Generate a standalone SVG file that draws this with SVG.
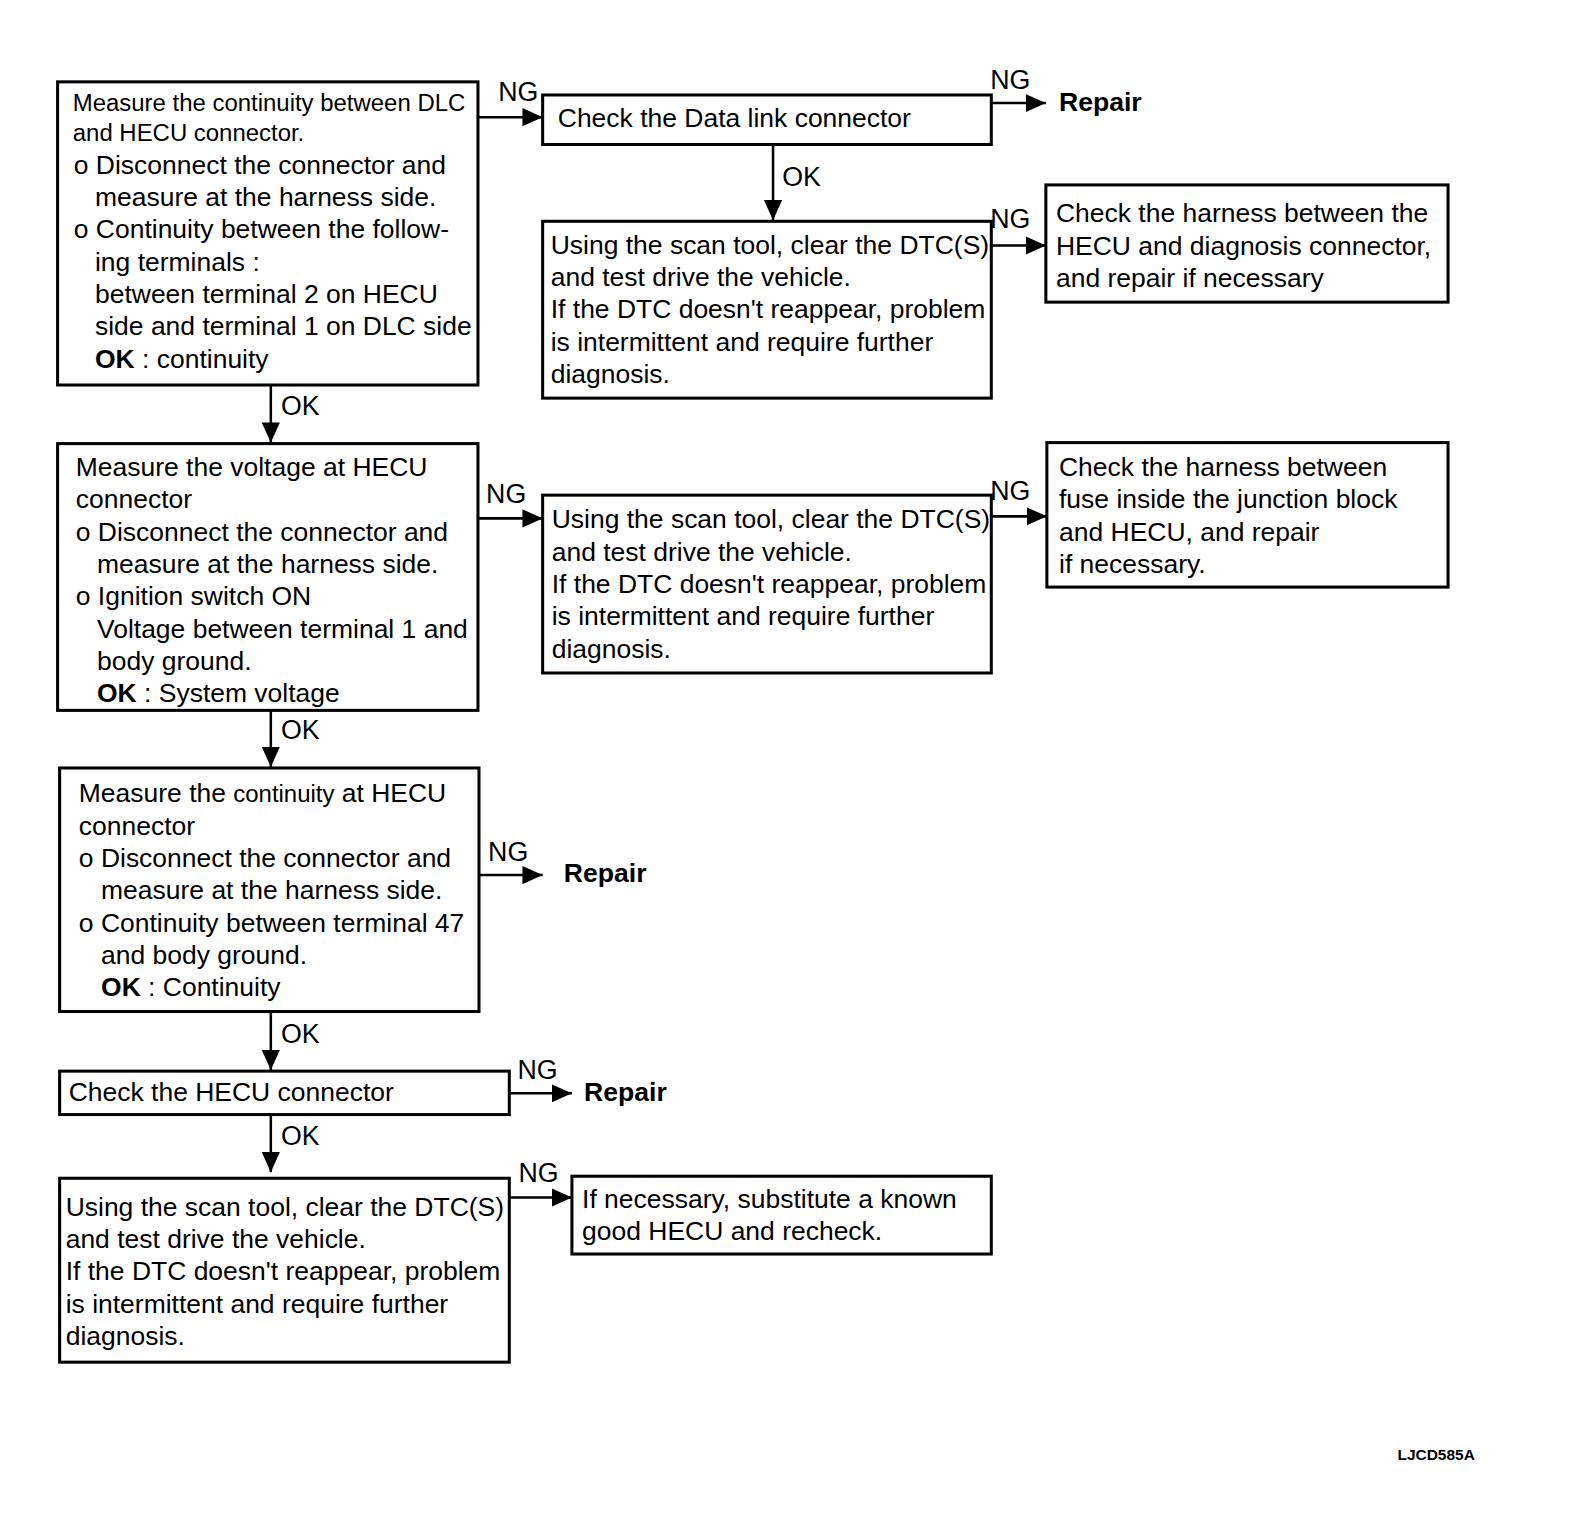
<svg xmlns="http://www.w3.org/2000/svg" width="1584" height="1532" viewBox="0 0 1584 1532">
<style>
.box{fill:#fff;stroke:#000;stroke-width:3}
.t{font-family:"Liberation Sans",Arial,sans-serif;font-size:26.2px;fill:#000}
.s{font-size:23.7px}
.b{font-weight:bold}
.lbl{font-family:"Liberation Sans",Arial,sans-serif;font-size:26.5px;fill:#000}
.rep{font-family:"Liberation Sans",Arial,sans-serif;font-size:26.3px;font-weight:bold;fill:#000}
.c{stroke:#000;stroke-width:2.5;fill:none}
</style>
<defs>
<marker id="ah" markerUnits="userSpaceOnUse" markerWidth="22" markerHeight="20" refX="20" refY="9" orient="auto">
<path d="M0,0 L20,9 L0,18 z" fill="#000"/>
</marker>
</defs>
<rect width="1584" height="1532" fill="#fff"/>
<g transform="scale(1.0105)">

<g id="n1">
<rect class="box" x="57" y="81" width="416" height="300"/>
<text class="t"><tspan class="s" x="72" y="110">Measure the continuity between DLC</tspan><tspan class="s" x="72" y="140">and HECU connector.</tspan><tspan x="73" y="172">o Disconnect the connector and</tspan><tspan x="94" y="204">measure at the harness side.</tspan><tspan x="73" y="236">o Continuity between the follow-</tspan><tspan x="94" y="268">ing terminals :</tspan><tspan x="94" y="300">between terminal 2 on HECU</tspan><tspan x="94" y="332">side and terminal 1 on DLC side</tspan><tspan x="94" y="364" class="b">OK</tspan><tspan> : continuity</tspan></text>
</g>

<g id="n2">
<rect class="box" x="537" y="94" width="444" height="49"/>
<text class="t" x="552" y="126">Check the Data link connector</text>
</g>
<text class="rep" x="1048" y="110">Repair</text>

<g id="n3">
<rect class="box" x="537" y="219" width="444" height="175"/>
<text class="t"><tspan x="545" y="251">Using the scan tool, clear the DTC(S)</tspan><tspan x="545" y="283">and test drive the vehicle.</tspan><tspan x="545" y="315">If the DTC doesn't reappear, problem</tspan><tspan x="545" y="347">is intermittent and require further</tspan><tspan x="545" y="379">diagnosis.</tspan></text>
</g>

<g id="n4">
<rect class="box" x="1035" y="183" width="398" height="116"/>
<text class="t"><tspan x="1045" y="220">Check the harness between the</tspan><tspan x="1045" y="252">HECU and diagnosis connector,</tspan><tspan x="1045" y="284">and repair if necessary</tspan></text>
</g>

<g id="n5">
<rect class="box" x="57" y="439" width="416" height="264"/>
<text class="t"><tspan x="75" y="471">Measure the voltage at HECU</tspan><tspan x="75" y="503">connector</tspan><tspan x="75" y="535">o Disconnect the connector and</tspan><tspan x="96" y="567">measure at the harness side.</tspan><tspan x="75" y="599">o Ignition switch ON</tspan><tspan x="96" y="631">Voltage between terminal 1 and</tspan><tspan x="96" y="663">body ground.</tspan><tspan x="96" y="695" class="b">OK</tspan><tspan> : System voltage</tspan></text>
</g>

<g id="n6">
<rect class="box" x="537" y="490" width="444" height="176"/>
<text class="t"><tspan x="546" y="523">Using the scan tool, clear the DTC(S)</tspan><tspan x="546" y="555">and test drive the vehicle.</tspan><tspan x="546" y="587">If the DTC doesn't reappear, problem</tspan><tspan x="546" y="619">is intermittent and require further</tspan><tspan x="546" y="651">diagnosis.</tspan></text>
</g>

<g id="n7">
<rect class="box" x="1036" y="438" width="397" height="143"/>
<text class="t"><tspan x="1048" y="471">Check the harness between</tspan><tspan x="1048" y="503">fuse inside the junction block</tspan><tspan x="1048" y="535">and HECU, and repair</tspan><tspan x="1048" y="567">if necessary.</tspan></text>
</g>

<g id="n8">
<rect class="box" x="59" y="760" width="415" height="241"/>
<text class="t"><tspan x="78" y="794">Measure the </tspan><tspan class="s">continuity</tspan><tspan> at HECU</tspan><tspan x="78" y="826">connector</tspan><tspan x="78" y="858">o Disconnect the connector and</tspan><tspan x="100" y="890">measure at the harness side.</tspan><tspan x="78" y="922">o Continuity between terminal 47</tspan><tspan x="100" y="954">and body ground.</tspan><tspan x="100" y="986" class="b">OK</tspan><tspan> : Continuity</tspan></text>
</g>
<text class="rep" x="558" y="873">Repair</text>

<g id="n9">
<rect class="box" x="59" y="1060" width="445" height="43"/>
<text class="t" x="68" y="1090">Check the HECU connector</text>
</g>
<text class="rep" x="578" y="1090">Repair</text>

<g id="n10">
<rect class="box" x="59" y="1166" width="445" height="182"/>
<text class="t"><tspan x="65" y="1203">Using the scan tool, clear the DTC(S)</tspan><tspan x="65" y="1235">and test drive the vehicle.</tspan><tspan x="65" y="1267">If the DTC doesn't reappear, problem</tspan><tspan x="65" y="1299">is intermittent and require further</tspan><tspan x="65" y="1331">diagnosis.</tspan></text>
</g>

<g id="n11">
<rect class="box" x="566" y="1164" width="415" height="77"/>
<text class="t"><tspan x="576" y="1195">If necessary, substitute a known</tspan><tspan x="576" y="1227">good HECU and recheck.</tspan></text>
</g>

<g id="connectors">
<line class="c" x1="473" y1="116" x2="537" y2="116" marker-end="url(#ah)"/>
<text class="lbl" x="493" y="100">NG</text>
<line class="c" x1="981" y1="102" x2="1035" y2="102" marker-end="url(#ah)"/>
<text class="lbl" x="980" y="88">NG</text>
<line class="c" x1="765" y1="143" x2="765" y2="218" marker-end="url(#ah)"/>
<text class="lbl" x="774" y="184">OK</text>
<line class="c" x1="981" y1="243" x2="1035" y2="243" marker-end="url(#ah)"/>
<text class="lbl" x="980" y="226">NG</text>
<line class="c" x1="268" y1="381" x2="268" y2="438" marker-end="url(#ah)"/>
<text class="lbl" x="278" y="411">OK</text>
<line class="c" x1="473" y1="513" x2="537" y2="513" marker-end="url(#ah)"/>
<text class="lbl" x="481" y="498">NG</text>
<line class="c" x1="981" y1="511" x2="1036" y2="511" marker-end="url(#ah)"/>
<text class="lbl" x="980" y="495">NG</text>
<line class="c" x1="268" y1="703" x2="268" y2="759" marker-end="url(#ah)"/>
<text class="lbl" x="278" y="731">OK</text>
<line class="c" x1="474" y1="866" x2="537" y2="866" marker-end="url(#ah)"/>
<text class="lbl" x="483" y="852">NG</text>
<line class="c" x1="268" y1="1001" x2="268" y2="1059" marker-end="url(#ah)"/>
<text class="lbl" x="278" y="1032">OK</text>
<line class="c" x1="504" y1="1082" x2="566" y2="1082" marker-end="url(#ah)"/>
<text class="lbl" x="512" y="1068">NG</text>
<line class="c" x1="268" y1="1103" x2="268" y2="1160" marker-end="url(#ah)"/>
<text class="lbl" x="278" y="1133">OK</text>
<line class="c" x1="504" y1="1185" x2="566" y2="1185" marker-end="url(#ah)"/>
<text class="lbl" x="513" y="1170">NG</text>
</g>

<text x="1383" y="1445" font-family="Liberation Sans, Arial, sans-serif" font-size="15.3" font-weight="bold">LJCD585A</text>
</g>
</svg>
